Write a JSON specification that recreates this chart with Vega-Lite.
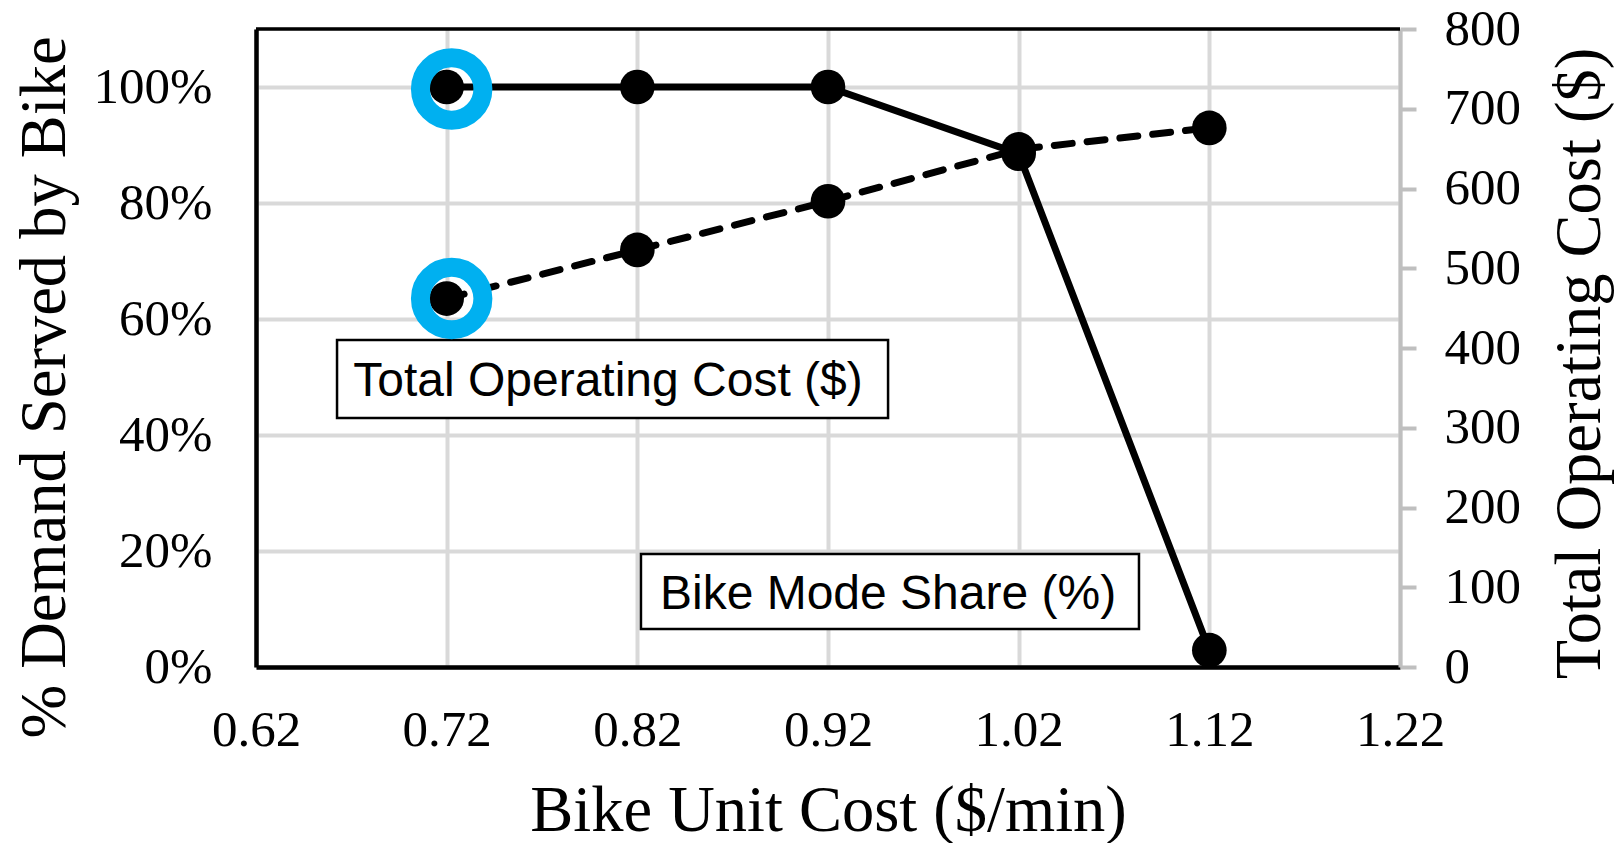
{
  "$schema": "https://vega.github.io/schema/vega-lite/v6.json",
  "width": 1144,
  "height": 638,
  "autosize": {"type": "none"},
  "padding": {"left": 256, "top": 29, "right": 224, "bottom": 176},
  "background": "white",
  "config": {"view": {"stroke": null}, "font": "Liberation Serif"},
  "datasets": {
    "main": [
      {"cost": 0.72, "share": 1.0, "opcost": 462},
      {"cost": 0.82, "share": 1.0, "opcost": 523},
      {"cost": 0.92, "share": 1.0, "opcost": 584},
      {"cost": 1.02, "share": 0.885, "opcost": 649},
      {"cost": 1.12, "share": 0.029, "opcost": 676}
    ],
    "boxes": [
      {"label": "Total Operating Cost ($)", "x1": 0.6625, "x2": 0.9515, "y1": 0.4293, "y2": 0.5638, "tx": 0.8046, "ty": 0.467},
      {"label": "Bike Mode Share (%)", "x1": 0.8219, "x2": 1.0831, "y1": 0.0655, "y2": 0.1948, "tx": 0.9515, "ty": 0.1}
    ]
  },
  "layer": [
    {
      "layer": [
        {
          "data": {"name": "main"},
          "mark": {"type": "line", "color": "black", "strokeWidth": 7},
          "encoding": {
            "x": {
              "field": "cost", "type": "quantitative",
              "scale": {"domain": [0.62, 1.22], "nice": false, "zero": false},
              "axis": {
                "orient": "bottom",
                "title": "Bike Unit Cost ($/min)",
                "values": [0.62, 0.72, 0.82, 0.92, 1.02, 1.12, 1.22],
                "format": ".2f",
                "domainColor": "black", "domainWidth": 4.5,
                "ticks": false,
                "labelPadding": 78, "labelBaseline": "alphabetic",
                "labelFont": "Liberation Serif", "labelFontSize": 51, "labelColor": "black",
                "labelFlush": false, "labelOverlap": false, "labelBound": false,
                "grid": true, "gridColor": "#D9D9D9", "gridWidth": 4,
                "titleFont": "Liberation Serif", "titleFontSize": 64.5, "titleFontWeight": "normal", "titleColor": "black",
                "titleX": 572, "titleY": 163, "titleBaseline": "alphabetic", "titleAlign": "center"
              }
            },
            "y": {
              "field": "share", "type": "quantitative",
              "scale": {"domain": [0, 1.1], "nice": false},
              "axis": {
                "orient": "left",
                "title": "% Demand Served by Bike",
                "values": [0, 0.2, 0.4, 0.6, 0.8, 1.0],
                "format": ".0%",
                "domainColor": "black", "domainWidth": 4.5,
                "ticks": false,
                "labelPadding": 44,
                "labelFont": "Liberation Serif", "labelFontSize": 51, "labelColor": "black",
                "labelFlush": false, "labelOverlap": false, "labelBound": false,
                "grid": true, "gridColor": "#D9D9D9", "gridWidth": 4,
                "titleFont": "Liberation Serif", "titleFontSize": 64.5, "titleFontWeight": "normal", "titleColor": "black",
                "titleAngle": 270, "titleX": -192, "titleY": 358, "titleBaseline": "alphabetic", "titleAlign": "center"
              }
            }
          }
        },
        {
          "data": {"name": "main"},
          "mark": {"type": "rule", "color": "black", "strokeWidth": 2.5},
          "encoding": {
            "y": {"datum": 1.1, "type": "quantitative", "scale": {"domain": [0, 1.1], "nice": false}}
          }
        },
        {
          "data": {"name": "boxes"},
          "mark": {"type": "rect", "fill": "white", "stroke": "black", "strokeWidth": 2.5},
          "encoding": {
            "x": {"field": "x1", "type": "quantitative", "scale": {"domain": [0.62, 1.22], "nice": false, "zero": false}},
            "x2": {"field": "x2"},
            "y": {"field": "y1", "type": "quantitative", "scale": {"domain": [0, 1.1], "nice": false}},
            "y2": {"field": "y2"}
          }
        },
        {
          "data": {"name": "boxes"},
          "mark": {"type": "text", "font": "Liberation Sans", "fontSize": 48, "color": "black", "align": "center", "baseline": "alphabetic"},
          "encoding": {
            "x": {"field": "tx", "type": "quantitative", "scale": {"domain": [0.62, 1.22], "nice": false, "zero": false}},
            "y": {"field": "ty", "type": "quantitative", "scale": {"domain": [0, 1.1], "nice": false}},
            "text": {"field": "label"}
          }
        },
        {
          "data": {"name": "main"},
          "mark": {"type": "point", "shape": "circle", "filled": true, "color": "black", "opacity": 1, "size": 1200},
          "encoding": {
            "x": {"field": "cost", "type": "quantitative", "scale": {"domain": [0.62, 1.22], "nice": false, "zero": false}},
            "y": {"field": "share", "type": "quantitative", "scale": {"domain": [0, 1.1], "nice": false}}
          }
        },
        {
          "data": {"name": "main"},
          "transform": [{"filter": "datum.cost == 0.72"}],
          "mark": {"type": "point", "shape": "circle", "filled": false, "stroke": "#00B0F0", "strokeWidth": 19, "opacity": 1, "size": 3900, "xOffset": 5, "yOffset": 2},
          "encoding": {
            "x": {"field": "cost", "type": "quantitative", "scale": {"domain": [0.62, 1.22], "nice": false, "zero": false}},
            "y": {"field": "share", "type": "quantitative", "scale": {"domain": [0, 1.1], "nice": false}}
          }
        }
      ]
    },
    {
      "layer": [
        {
          "data": {"name": "main"},
          "mark": {"type": "line", "color": "black", "strokeWidth": 7, "strokeDash": [18, 15], "strokeCap": "round"},
          "encoding": {
            "x": {"field": "cost", "type": "quantitative", "scale": {"domain": [0.62, 1.22], "nice": false, "zero": false}},
            "y": {
              "field": "opcost", "type": "quantitative",
              "scale": {"domain": [0, 800], "nice": false},
              "axis": {
                "orient": "right",
                "title": "Total Operating Cost ($)",
                "values": [0, 100, 200, 300, 400, 500, 600, 700, 800],
                "domainColor": "#BFBFBF", "domainWidth": 4,
                "ticks": true, "tickColor": "#BFBFBF", "tickWidth": 4, "tickSize": 16,
                "labelPadding": 28,
                "labelFont": "Liberation Serif", "labelFontSize": 51, "labelColor": "black",
                "labelFlush": false, "labelOverlap": false, "labelBound": false,
                "grid": false,
                "titleFont": "Liberation Serif", "titleFontSize": 64.5, "titleFontWeight": "normal", "titleColor": "black",
                "titleAngle": 270, "titleX": 199, "titleY": 334, "titleBaseline": "alphabetic", "titleAlign": "center"
              }
            }
          }
        },
        {
          "data": {"name": "main"},
          "mark": {"type": "point", "shape": "circle", "filled": true, "color": "black", "opacity": 1, "size": 1200},
          "encoding": {
            "x": {"field": "cost", "type": "quantitative", "scale": {"domain": [0.62, 1.22], "nice": false, "zero": false}},
            "y": {"field": "opcost", "type": "quantitative", "scale": {"domain": [0, 800], "nice": false}}
          }
        },
        {
          "data": {"name": "main"},
          "transform": [{"filter": "datum.cost == 0.72"}],
          "mark": {"type": "point", "shape": "circle", "filled": false, "stroke": "#00B0F0", "strokeWidth": 19, "opacity": 1, "size": 3900, "xOffset": 5, "yOffset": 0},
          "encoding": {
            "x": {"field": "cost", "type": "quantitative", "scale": {"domain": [0.62, 1.22], "nice": false, "zero": false}},
            "y": {"field": "opcost", "type": "quantitative", "scale": {"domain": [0, 800], "nice": false}}
          }
        }
      ]
    }
  ],
  "resolve": {"scale": {"y": "independent"}}
}
